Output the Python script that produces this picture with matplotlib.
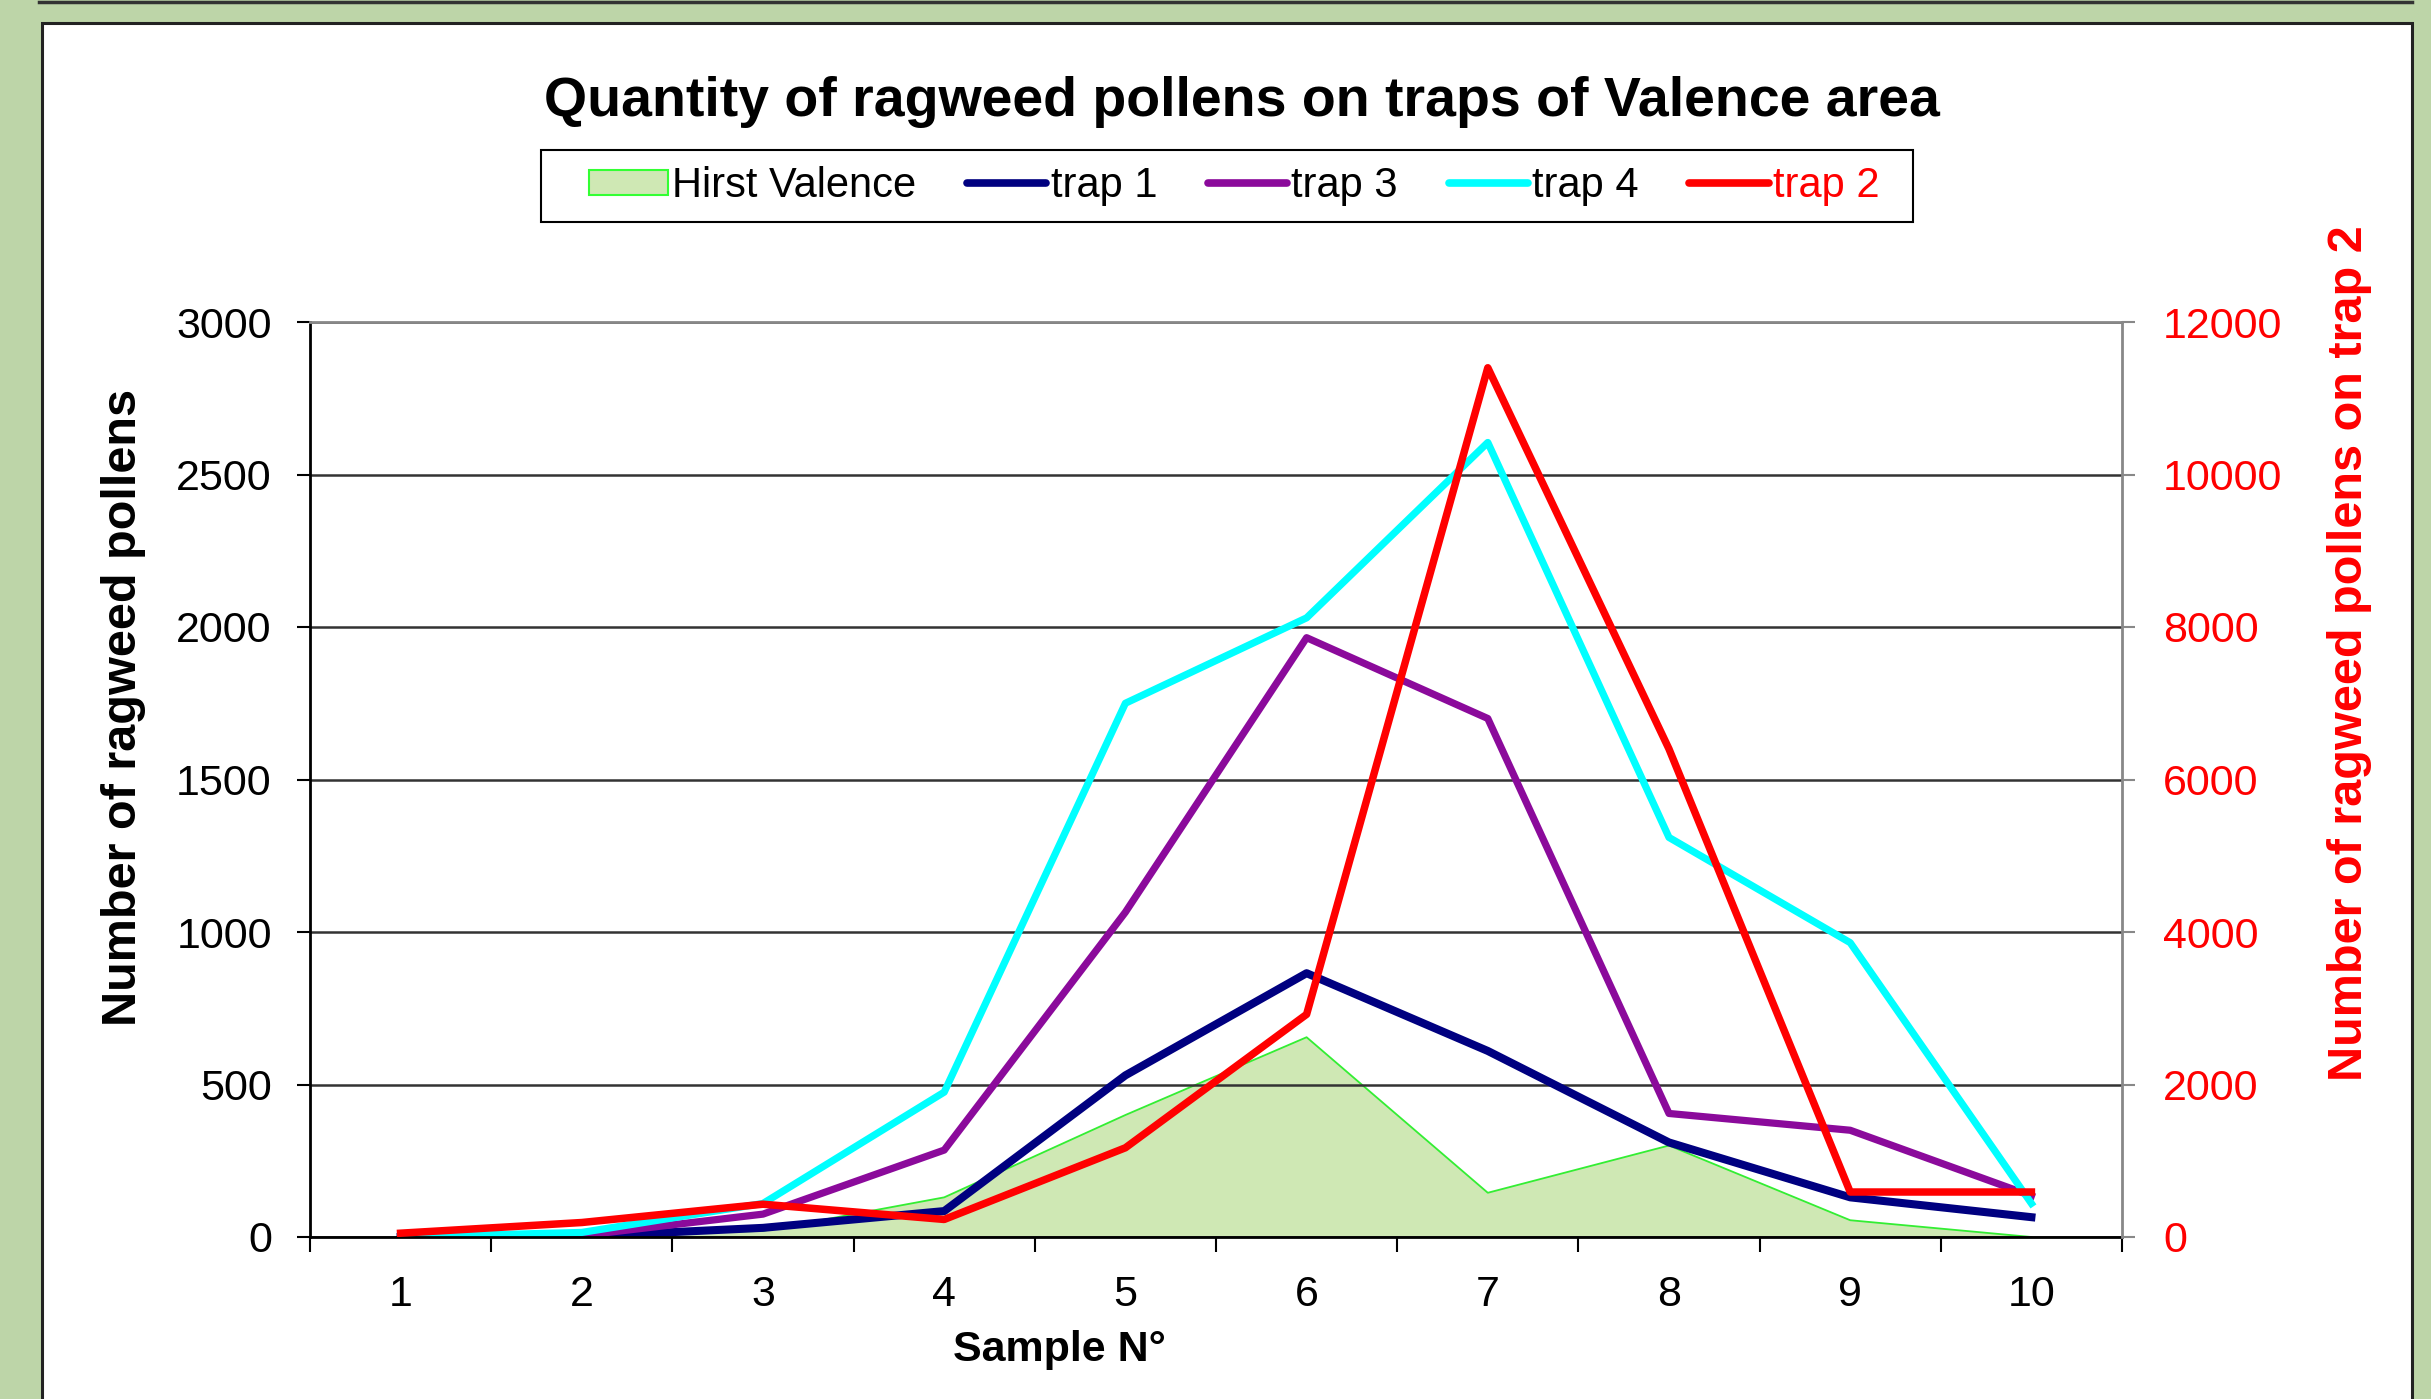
import matplotlib
matplotlib.use("Agg")
import matplotlib.pyplot as plt
from matplotlib.patches import Rectangle, Patch
from matplotlib.lines import Line2D

plt.rcParams['font.family'] = ['Liberation Sans', 'DejaVu Sans']

# ---- data ----
samples = [1, 2, 3, 4, 5, 6, 7, 8, 9, 10]
hirst = [0, 5, 20, 130, 400, 655, 145, 300, 55, 0]
trap1 = [0, 2, 30, 85, 530, 865, 610, 310, 130, 65]
trap3 = [0, 5, 75, 285, 1065, 1965, 1700, 405, 350, 135]
trap4 = [0, 15, 110, 475, 1750, 2030, 2605, 1310, 965, 110]
trap2 = [50, 190, 430, 230, 1170, 2920, 11400, 6400, 590, 590]
left_ticks = [0, 500, 1000, 1500, 2000, 2500, 3000]
right_ticks = [0, 2000, 4000, 6000, 8000, 10000, 12000]

W, H = 2431, 1399
fig = plt.figure(figsize=(W / 100, H / 100), dpi=100)
fig.patch.set_facecolor('#bdd5a8')

# white panel with dark border
fig.patches.append(Rectangle((42 / W, -0.02), (2412 - 42) / W, 1 - 23 / H + 0.02,
                             transform=fig.transFigure, facecolor='white',
                             edgecolor='#222222', linewidth=2.2, zorder=0))
fig.lines.append(Line2D([39 / W, 2412 / W], [1 - 1.5 / H, 1 - 1.5 / H],
                        transform=fig.transFigure, color='#333333', linewidth=2.5))
# legend frame
fig.patches.append(Rectangle((541 / W, 1 - 222 / H), (1913 - 541) / W, 72 / H,
                             transform=fig.transFigure, facecolor='none',
                             edgecolor='black', linewidth=1.5, zorder=1))

ax = fig.add_axes([310 / W, 1 - 1237 / H, (2122 - 310) / W, (1237 - 322) / H])
ax.set_facecolor('none')
ax.set_zorder(2)
ax2 = ax.twinx()
ax2.set_zorder(3)
ax2.set_facecolor('none')

fill_face = '#cfe8b4'
fill_edge = '#33ee33'
c_trap1 = '#000080'
c_trap3 = '#8b0a9b'
c_trap4 = '#00ffff'
c_trap2 = '#ff0000'

ax.fill_between(samples, hirst, 0, facecolor=fill_face, edgecolor='none', zorder=1)
ax.plot(samples, hirst, color=fill_edge, linewidth=1.3, zorder=1.2)
ax.plot(samples, trap1, color=c_trap1, linewidth=5.8, zorder=2)
ax.plot(samples, trap3, color=c_trap3, linewidth=5.2, zorder=2.1)
ax.plot(samples, trap4, color=c_trap4, linewidth=5.2, zorder=2.2)
ax2.plot(samples, trap2, color=c_trap2, linewidth=5.4)

ax.set_xlim(0.5, 10.5)
ax.set_ylim(0, 3000)
ax2.set_ylim(0, 12000)

# y ticks / grid
ax.set_yticks(left_ticks)
ax.set_yticklabels([str(v) for v in left_ticks])
ax.yaxis.grid(True, color='#333333', linewidth=1.8)
ax.tick_params(axis='y', direction='out', length=9.5, width=1.5, color='black',
               labelsize=31, pad=18)
ax2.set_yticks(right_ticks)
ax2.set_yticklabels([str(v) for v in right_ticks])
ax2.tick_params(axis='y', direction='out', length=9.5, width=1.5, color='#888888',
                labelsize=31, labelcolor='red', pad=20)

# x ticks: marks between categories, labels on categories
ax.set_xticks([i + 0.5 for i in range(0, 11)])
ax.set_xticklabels([])
ax.set_xticks(samples, minor=True)
ax.set_xticklabels([str(s) for s in samples], minor=True)
ax.tick_params(axis='x', which='major', direction='out', length=11, width=1.5, color='black')
ax.tick_params(axis='x', which='minor', length=0, labelsize=31, pad=27)

# spines
for s in ['left', 'bottom']:
    ax.spines[s].set_color('black')
    ax.spines[s].set_linewidth(2)
ax.spines['top'].set_color('#888888')
ax.spines['top'].set_linewidth(2)
ax.spines['right'].set_visible(False)
for s in ['left', 'bottom', 'top']:
    ax2.spines[s].set_visible(False)
ax2.spines['right'].set_color('#888888')
ax2.spines['right'].set_linewidth(2)

# labels / title
fig.text(1242 / W, 1 - 102 / H, 'Quantity of ragweed pollens on traps of Valence area',
         ha='center', va='center', fontsize=40, fontweight='bold')
fig.text(124 / W, 1 - 707 / H, 'Number of ragweed pollens', rotation=90,
         ha='center', va='center', fontsize=35, fontweight='bold')
fig.text(2349 / W, 1 - 653 / H, 'Number of ragweed pollens on trap 2', rotation=90,
         ha='center', va='center', fontsize=35, fontweight='bold', color='red')
fig.text(1059 / W, 1 - 1350 / H, 'Sample N°', ha='center', va='center',
         fontsize=31, fontweight='bold')

# legend (frame drawn separately)
handles = [Patch(facecolor=fill_face, edgecolor='#33ff33', linewidth=1.5),
           Line2D([], [], color=c_trap1, linewidth=5.5, solid_capstyle='round'),
           Line2D([], [], color=c_trap3, linewidth=5.5, solid_capstyle='round'),
           Line2D([], [], color=c_trap4, linewidth=5.5, solid_capstyle='round'),
           Line2D([], [], color=c_trap2, linewidth=5.5, solid_capstyle='round')]
labels = ['Hirst Valence', 'trap 1', 'trap 3', 'trap 4', 'trap 2']
leg = fig.legend(handles, labels, loc='center left',
                 bbox_to_anchor=(589 / W, 1 - 186 / H),
                 ncol=5, fontsize=30, frameon=False,
                 handlelength=1.9, handletextpad=0.1, columnspacing=1.22,
                 borderpad=0, handleheight=0.55, borderaxespad=0)
leg.get_texts()[-1].set_color('red')

fig.savefig('out.png', dpi=100, facecolor=fig.get_facecolor())
